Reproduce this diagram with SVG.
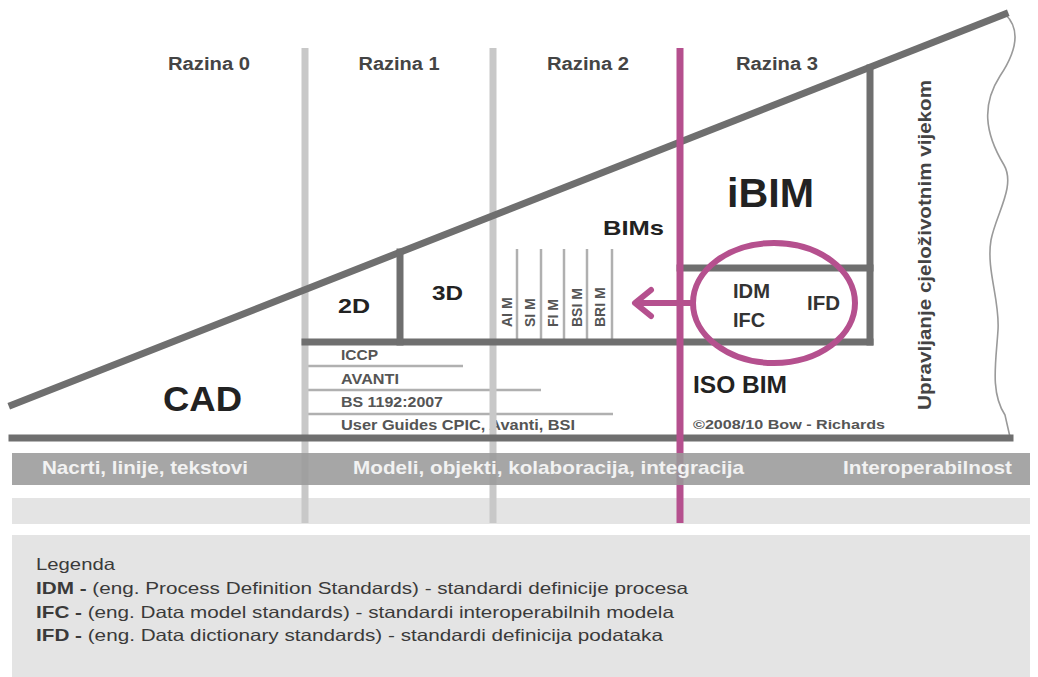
<svg xmlns="http://www.w3.org/2000/svg" width="1038" height="677" viewBox="0 0 1038 677">
<style>
text{font-family:"Liberation Sans",Arial,sans-serif;font-weight:bold}
.raz{font-size:18px;fill:#444;text-anchor:middle}
.big{fill:#222}
.list{font-size:15px;fill:#555}
.bim{font-size:14px;fill:#555}
.band{font-size:19px;fill:#f2f2f2}
.leg{font-size:16.5px;fill:#3a3a3a;font-weight:normal}
.leg tspan.b{font-weight:bold}
.std{font-size:20px;fill:#333}
.thick{stroke:#6f6f6f;stroke-width:7;fill:none;stroke-linecap:square}
.vgray{stroke:#c8c8c8;stroke-width:7}
.thin{stroke:#b0b0b0;stroke-width:2.5}
.pink{stroke:#b5508e;fill:none}
</style>
<rect x="0" y="0" width="1038" height="677" fill="#ffffff"/>

<g id="level-labels">
<text class="raz" x="209" y="70" textLength="82" lengthAdjust="spacingAndGlyphs">Razina 0</text>
<text class="raz" x="399" y="70" textLength="81" lengthAdjust="spacingAndGlyphs">Razina 1</text>
<text class="raz" x="588" y="70" textLength="82" lengthAdjust="spacingAndGlyphs">Razina 2</text>
<text class="raz" x="777" y="70" textLength="82" lengthAdjust="spacingAndGlyphs">Razina 3</text>
</g>

<g id="node-cad"><text class="big" x="163" y="411" font-size="35" textLength="79" lengthAdjust="spacingAndGlyphs">CAD</text></g>
<g id="node-2d"><text class="big" x="338" y="313" font-size="21" textLength="32" lengthAdjust="spacingAndGlyphs">2D</text></g>
<g id="node-3d"><text class="big" x="432" y="300" font-size="21" textLength="31" lengthAdjust="spacingAndGlyphs">3D</text></g>
<g id="node-bims"><text class="big" x="603" y="235" font-size="21" textLength="61" lengthAdjust="spacingAndGlyphs">BIMs</text></g>
<g id="node-ibim"><text class="big" x="727" y="207" font-size="41" textLength="87" lengthAdjust="spacingAndGlyphs">iBIM</text></g>
<g id="node-isobim"><text class="big" x="693" y="393" font-size="24" textLength="94" lengthAdjust="spacingAndGlyphs">ISO BIM</text></g>
<g id="node-copyright"><text x="693" y="429" font-size="13.5" fill="#555" textLength="192" lengthAdjust="spacingAndGlyphs">©2008/10 Bow - Richards</text></g>

<g id="node-standards">
<text class="list" x="341" y="360" textLength="37" lengthAdjust="spacingAndGlyphs">ICCP</text>
<text class="list" x="341" y="384" textLength="58" lengthAdjust="spacingAndGlyphs">AVANTI</text>
<text class="list" x="341" y="407" textLength="102" lengthAdjust="spacingAndGlyphs">BS 1192:2007</text>
<text class="list" x="341" y="430" textLength="234" lengthAdjust="spacingAndGlyphs">User Guides CPIC, Avanti, BSI</text>
<line class="thin" x1="305" y1="366" x2="463" y2="366"/>
<line class="thin" x1="305" y1="390" x2="541" y2="390"/>
<line class="thin" x1="305" y1="414" x2="613" y2="414"/>
</g>

<g id="node-bim-models">
<line class="thin" x1="517" y1="249" x2="517" y2="342"/>
<line class="thin" x1="541" y1="249" x2="541" y2="342"/>
<line class="thin" x1="564" y1="249" x2="564" y2="342"/>
<line class="thin" x1="587" y1="249" x2="587" y2="342"/>
<line class="thin" x1="612" y1="249" x2="612" y2="342"/>
<text class="bim" transform="translate(512,327) rotate(-90)">AI M</text>
<text class="bim" transform="translate(535,327) rotate(-90)">SI M</text>
<text class="bim" transform="translate(558,327) rotate(-90)">FI M</text>
<text class="bim" transform="translate(582,327) rotate(-90)">BSI M</text>
<text class="bim" transform="translate(605,327) rotate(-90)">BRI M</text>
</g>

<g id="node-iso-standards">
<text class="std" x="733" y="298" textLength="37" lengthAdjust="spacingAndGlyphs">IDM</text>
<text class="std" x="733" y="327" textLength="32" lengthAdjust="spacingAndGlyphs">IFC</text>
<text class="std" x="807" y="310" textLength="33" lengthAdjust="spacingAndGlyphs">IFD</text>
</g>

<g id="node-lifecycle">
<text transform="translate(931,410) rotate(-90)" font-size="19" fill="#444" textLength="330" lengthAdjust="spacingAndGlyphs">Upravljanje cjeloživotnim vijekom</text>
<path d="M1005,14 C1022,30 1016,52 1000,76 C982,104 984,132 1004,165 C1016,186 996,214 991,240 C986,270 1000,300 998,330 C996,362 990,392 1005,415 L1010,437" fill="none" stroke="#9a9a9a" stroke-width="1.6"/>
</g>

<g id="bands">
<rect x="12" y="498" width="1018" height="26" fill="#e4e4e4"/>
</g>

<g id="level-dividers">
<line class="vgray" x1="305" y1="48" x2="305" y2="523"/>
<line class="vgray" x1="493" y1="48" x2="493" y2="523"/>
</g>

<g id="connectors">
<line class="thick" x1="12" y1="405" x2="1005" y2="14"/>
<line class="thick" x1="12" y1="438" x2="1010" y2="438"/>
<line class="thick" x1="305" y1="342" x2="870" y2="342"/>
<line class="thick" x1="400" y1="252" x2="400" y2="342"/>
<line class="thick" x1="870" y1="68" x2="870" y2="342"/>
<line class="thick" x1="680" y1="268" x2="870" y2="268"/>
<line class="pink" x1="680" y1="48" x2="680" y2="523" stroke-width="7"/>
<ellipse class="pink" cx="774" cy="303" rx="81" ry="60" stroke-width="6"/>
<line class="pink" x1="693" y1="303" x2="636" y2="303" stroke-width="6"/>
<polyline class="pink" points="651,290 635,303 651,316" stroke-width="6" stroke-linecap="round" stroke-linejoin="round"/>
</g>

<g id="band-labels">
<rect x="12" y="453" width="1018" height="32" fill="#9a9a9a" fill-opacity="0.88"/>
<text class="band" x="42" y="474" textLength="206" lengthAdjust="spacingAndGlyphs">Nacrti, linije, tekstovi</text>
<text class="band" x="353" y="474" textLength="391" lengthAdjust="spacingAndGlyphs">Modeli, objekti, kolaboracija, integracija</text>
<text class="band" x="843" y="474" textLength="169" lengthAdjust="spacingAndGlyphs">Interoperabilnost</text>
</g>

<g id="legend">
<rect x="12" y="535" width="1018" height="142" fill="#e4e4e4"/>
<text class="leg" x="36" y="570" textLength="79" lengthAdjust="spacingAndGlyphs">Legenda</text>
<text class="leg" x="36" y="594" textLength="652" lengthAdjust="spacingAndGlyphs"><tspan class="b">IDM -</tspan> (eng. Process Definition Standards) - standardi definicije procesa</text>
<text class="leg" x="36" y="618" textLength="638" lengthAdjust="spacingAndGlyphs"><tspan class="b">IFC -</tspan> (eng. Data model standards) - standardi interoperabilnih modela</text>
<text class="leg" x="36" y="641" textLength="627" lengthAdjust="spacingAndGlyphs"><tspan class="b">IFD -</tspan> (eng. Data dictionary standards) - standardi definicija podataka</text>
</g>
</svg>
